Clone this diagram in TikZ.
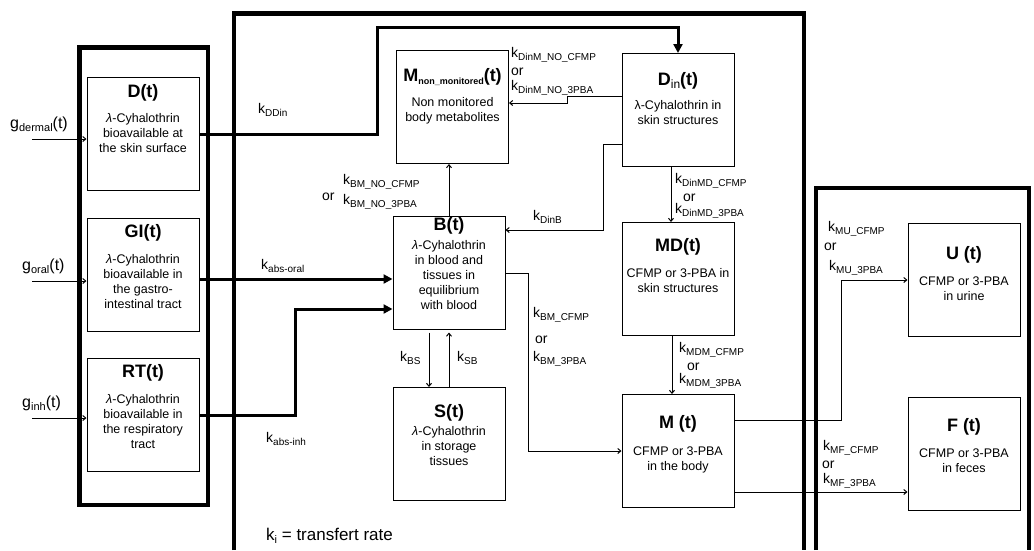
\documentclass[tikz,border=0pt]{standalone}
\usepackage{fontspec}
\setmainfont{Liberation Sans}
\usetikzlibrary{positioning,arrows.meta,calc}

\newcommand{\ttl}[1]{{\fontsize{18}{18}\selectfont\bfseries #1}}
\newcommand{\ks}[1]{k\raisebox{-3pt}{\fontsize{10}{10}\selectfont #1}}
\newcommand{\gs}[1]{g\raisebox{-3pt}{\fontsize{11}{11}\selectfont #1}(t)}
\newcommand{\lam}{\textit{λ}}

\begin{document}
\begin{tikzpicture}[
    x=1pt, y=-1pt,
    frame/.style={line width=4.5pt},
    box/.style={draw, line width=1pt, minimum width=112pt, minimum height=113pt, inner sep=0pt},
    inside/.style={align=center, inner sep=0pt, font=\fontsize{12.5}{15}\selectfont},
    lbl/.style={inner sep=0pt, anchor=base west, font=\fontsize{14}{16}\selectfont},
    glbl/.style={lbl, font=\fontsize{16}{16}\selectfont},
    thn/.style={line width=1pt, -{Straight Barb[length=3pt,width=5pt]}},
    thk/.style={line width=3pt, -{Triangle[length=9pt,width=9pt]}}
  ]
  \useasboundingbox (0,0) rectangle (1034,550);

  % containers
  \draw[frame] (79.5,47.5) rectangle (208,505);
  \draw[frame] (234,550) -- (234,13.5) -- (804,13.5) -- (804,550);
  \draw[frame] (816,550) -- (816,188) -- (1029,188) -- (1029,550);

  % compartments
  \node[box] (D) at (143,134) {};
  \node[box, below=27pt of D] (GI) {};
  \node[box, below=26pt of GI] (RT) {};
  \node[box] (Mnm) at (452.5,107) {};
  \node[box] (Din) at (678,110) {};
  \node[box] (B) at (449,273) {};
  \node[box, below=57pt of B] (S) {};
  \node[box, below=55pt of Din] (MD) {};
  \node[box, below=58pt of MD] (M) {};
  \node[box] (U) at (964,280) {};
  \node[box, below=60pt of U] (F) {};

  \node[inside, below=7.6pt of D.north] (Dtxt) {\ttl{D(t)}\\[10pt]\lam-Cyhalothrin\\bioavailable at\\the skin surface};
  \node[inside, below=6.6pt of GI.north] (GItxt) {\ttl{GI(t)}\\[11pt]\lam-Cyhalothrin\\bioavailable in\\the gastro-\\intestinal tract};
  \node[inside, below=6.6pt of RT.north] (RTtxt) {\ttl{RT(t)}\\[11pt]\lam-Cyhalothrin\\bioavailable in\\the respiratory\\tract};
  \node[inside, below=18.6pt of Mnm.north] (Mnmtxt) {\ttl{M\raisebox{-3pt}{\fontsize{9}{9}\selectfont non\_monitored}(t)}\\[10pt]Non monitored\\body metabolites};
  \node[inside, below=19.6pt of Din.north] (Dintxt) {\ttl{D\raisebox{-3pt}{\fontsize{12}{12}\selectfont\mdseries in}(t)}\\[9pt]λ-Cyhalothrin in\\skin structures};
  \node[inside, below=1.6pt of B.north] (Btxt) {\ttl{B(t)}\\[4pt]\lam-Cyhalothrin\\in blood and\\tissues in\\equilibrium\\with blood};
  \node[inside, below=17.6pt of S.north] (Stxt) {\ttl{S(t)}\\[3pt]\lam-Cyhalothrin\\in storage\\tissues};
  \node[inside, below=16.6pt of MD.north] (MDtxt) {\ttl{MD(t)}\\[11pt]CFMP or 3-PBA in\\skin structures};
  \node[inside, below=21.6pt of M.north] (Mtxt) {\ttl{M (t)}\\[12pt]CFMP or 3-PBA\\in the body};
  \node[inside, below=23.6pt of U.north] (Utxt) {\ttl{U (t)}\\[11pt]CFMP or 3-PBA\\in urine};
  \node[inside, below=21.6pt of F.north] (Ftxt) {\ttl{F (t)}\\[11pt]CFMP or 3-PBA\\in feces};

  % inputs
  \coordinate (gd) at (32,139);
  \coordinate (go) at (32,281);
  \coordinate (gi) at (32,418);
  \draw[thn] (gd) -- (gd -| D.west);
  \draw[thn] (go) -- (go -| GI.west);
  \draw[thn] (gi) -- (gi -| RT.west);
  \node[glbl] (lgd) at (10,128) {\gs{dermal}};
  \node[glbl] (lgo) at (22,270) {\gs{oral}};
  \node[glbl] (lgi) at (22,407) {\gs{inh}};

  % absorption
  \coordinate (up) at (377,27);
  \coordinate (inh) at (295,309);
  \draw[thk] (D.east) -| (up) -| (Din.north);
  \draw[thk] ([yshift=-4pt]GI.east) -- ([yshift=-4pt]GI.east -| B.west);
  \draw[thk] (RT.east) -| (inh) -- (inh -| B.west);

  % transfers
  \coordinate (dm) at (567,96);
  \coordinate (db) at (603,144);
  \draw[thn] (B.north) -- (B.north |- Mnm.south);
  \draw[thn] (Din.west |- dm) -- (dm) |- ([yshift=4pt]Mnm.east);
  \draw[thn] (Din.west |- db) -- (db) |- ([yshift=43pt]B.east);
  \draw[thn] ([xshift=-7pt]Din.south) -- ([xshift=-7pt]Din.south |- MD.north);
  \draw[thn] ([xshift=-6pt]MD.south) -- ([xshift=-6pt]MD.south |- M.north);
  \draw[thn] (B.east) -- ++(23,0) |- (M.west);
  \draw[thn, shorten <=2.5pt] ([xshift=-20pt]B.south) -- ([xshift=-20pt]B.south |- S.north);
  \draw[thn, shorten >=2.5pt] (S.north) -- (S.north |- B.south);
  \draw[thn] ([yshift=31pt]M.east) -- ++(107,0) |- (U.west);
  \draw[thn] ([yshift=-41pt]M.east) -- ([yshift=-41pt]M.east -| F.west);

  % rates
  \node[lbl] (kDDin) at (258,113) {\ks{DDin}};
  \node[lbl] (kor) at (261,269) {\ks{abs-oral}};
  \node[lbl] (kinh) at (266,442) {\ks{abs-inh}};
  \node[lbl] (kDinM1) at (511,57) {\ks{DinM\_NO\_CFMP}};
  \node[lbl] (kDinM2) at (511,75) {or};
  \node[lbl] (kDinM3) at (511,90) {\ks{DinM\_NO\_3PBA}};
  \node[lbl] (kBMno1) at (343,184) {\ks{BM\_NO\_CFMP}};
  \node[lbl] (kBMno2) at (322,200) {or};
  \node[lbl] (kBMno3) at (343,204) {\ks{BM\_NO\_3PBA}};
  \node[lbl] (kDinB) at (533,220) {\ks{DinB}};
  \node[lbl] (kDinMD1) at (675,183) {\ks{DinMD\_CFMP}};
  \node[lbl] (kDinMD2) at (683,201) {or};
  \node[lbl] (kDinMD3) at (675,213) {\ks{DinMD\_3PBA}};
  \node[lbl] (kMDM1) at (679,352) {\ks{MDM\_CFMP}};
  \node[lbl] (kMDM2) at (687,370) {or};
  \node[lbl] (kMDM3) at (679,383) {\ks{MDM\_3PBA}};
  \node[lbl] (kBM1) at (533,317) {\ks{BM\_CFMP}};
  \node[lbl] (kBM2) at (535,343) {or};
  \node[lbl] (kBM3) at (533,361) {\ks{BM\_3PBA}};
  \node[lbl] (kBS) at (400,361) {\ks{BS}};
  \node[lbl] (kSB) at (457,361) {\ks{SB}};
  \node[lbl] (kMU1) at (828,231) {\ks{MU\_CFMP}};
  \node[lbl] (kMU2) at (824,250) {or};
  \node[lbl] (kMU3) at (829,270) {\ks{MU\_3PBA}};
  \node[lbl] (kMF1) at (823,450) {\ks{MF\_CFMP}};
  \node[lbl] (kMF2) at (822,468) {or};
  \node[lbl] (kMF3) at (823,483) {\ks{MF\_3PBA}};
  \node[lbl, font=\fontsize{17}{17}\selectfont] (ki) at (266,540) {k\raisebox{-3pt}{\fontsize{11}{11}\selectfont i} = transfert rate};
\end{tikzpicture}
\end{document}
